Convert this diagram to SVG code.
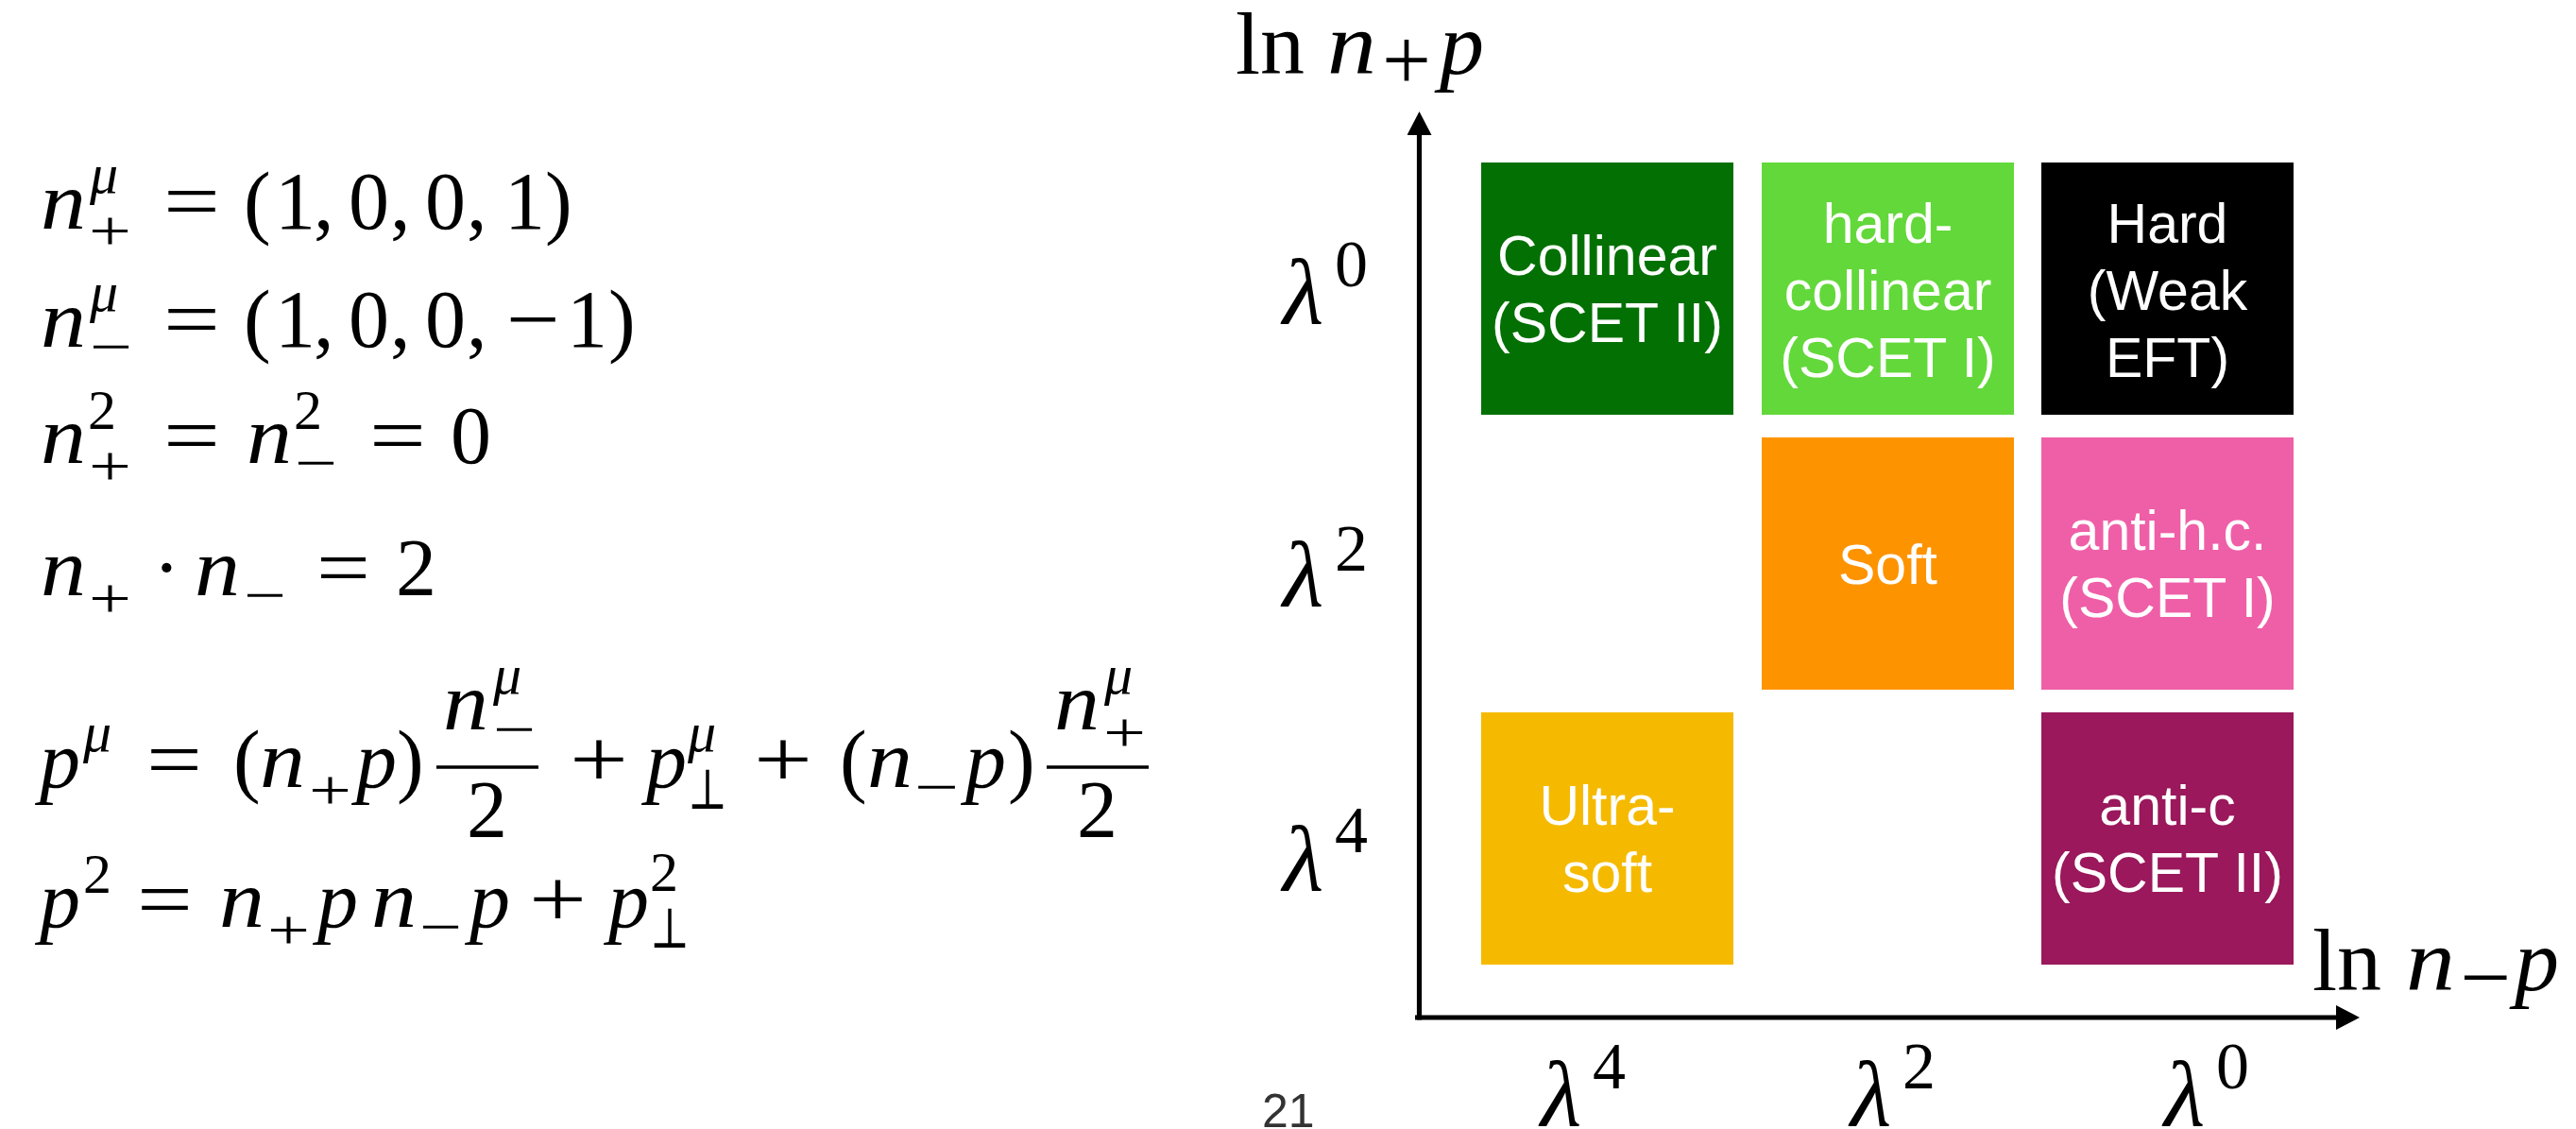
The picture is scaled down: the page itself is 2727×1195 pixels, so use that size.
<svg xmlns="http://www.w3.org/2000/svg" width="2727" height="1195" viewBox="0 0 2727 1195">
<style>
.m{font-family:"Liberation Serif","DejaVu Serif",serif;font-size:86px;fill:#000}
.i{font-style:italic}
.s{font-size:60px}
.ax{font-family:"Liberation Serif","DejaVu Serif",serif;font-size:94px;fill:#000}
.lam{font-family:"Liberation Serif","DejaVu Serif",serif;font-size:100px;font-style:italic;fill:#000}
.sup{font-family:"Liberation Serif","DejaVu Serif",serif;font-size:70px;fill:#000}
.lab{font-family:"Liberation Sans",Arial,sans-serif;font-size:59px;fill:#fff;text-anchor:middle}
.axis{stroke:#000;stroke-width:5.2;fill:none}
.bar{stroke:#000;stroke-width:3.5}
</style>
<defs>
<marker id="ah" viewBox="0 0 25 26" refX="0" refY="13" markerWidth="25" markerHeight="26" markerUnits="userSpaceOnUse" orient="auto">
<path d="M0,0 L25,13 L0,26 z" fill="#000"/>
</marker>
</defs>
<rect width="2727" height="1195" fill="#fff"/>

<g id="equations">
<!-- line 1 -->
<text class="m i" x="43" y="242" textLength="48" lengthAdjust="spacingAndGlyphs">n</text>
<text class="m i s" x="95" y="204">μ</text>
<text class="m s" x="94" y="264" textLength="45" lengthAdjust="spacingAndGlyphs">+</text>
<text class="m" x="173" y="242" textLength="60" lengthAdjust="spacingAndGlyphs">=</text>
<text class="m" x="258 291 332 369 413 450 494 534 577" y="242">(1,0,0,1)</text>
<!-- line 2 -->
<text class="m i" x="43" y="367" textLength="48" lengthAdjust="spacingAndGlyphs">n</text>
<text class="m i s" x="95" y="329">μ</text>
<text class="m s" x="95" y="387" textLength="45" lengthAdjust="spacingAndGlyphs">−</text>
<text class="m" x="173" y="367" textLength="60" lengthAdjust="spacingAndGlyphs">=</text>
<text class="m" x="258 291 332 369 413 450 494" y="367">(1,0,0,</text>
<text class="m" x="536" y="367" textLength="57" lengthAdjust="spacingAndGlyphs">−</text>
<text class="m" x="600 644" y="367">1)</text>
<!-- line 3 -->
<text class="m i" x="43" y="490" textLength="48" lengthAdjust="spacingAndGlyphs">n</text>
<text class="m s" x="93" y="454">2</text>
<text class="m s" x="94" y="513" textLength="45" lengthAdjust="spacingAndGlyphs">+</text>
<text class="m" x="173" y="490" textLength="60" lengthAdjust="spacingAndGlyphs">=</text>
<text class="m i" x="261" y="490" textLength="48" lengthAdjust="spacingAndGlyphs">n</text>
<text class="m s" x="311" y="454">2</text>
<text class="m s" x="312" y="510" textLength="45" lengthAdjust="spacingAndGlyphs">−</text>
<text class="m" x="391" y="490" textLength="60" lengthAdjust="spacingAndGlyphs">=</text>
<text class="m" x="477" y="490">0</text>
<!-- line 4 -->
<text class="m i" x="43" y="630" textLength="48" lengthAdjust="spacingAndGlyphs">n</text>
<text class="m s" x="94" y="653" textLength="45" lengthAdjust="spacingAndGlyphs">+</text>
<text class="m" x="162" y="630">·</text>
<text class="m i" x="206" y="630" textLength="48" lengthAdjust="spacingAndGlyphs">n</text>
<text class="m s" x="258" y="650" textLength="45" lengthAdjust="spacingAndGlyphs">−</text>
<text class="m" x="335" y="630" textLength="57" lengthAdjust="spacingAndGlyphs">=</text>
<text class="m" x="419" y="630">2</text>
<!-- line 5 -->
<text class="m i" x="42" y="833">p</text>
<text class="m i s" x="88" y="795">μ</text>
<text class="m" x="155" y="833" textLength="59" lengthAdjust="spacingAndGlyphs">=</text>
<text class="m" x="247" y="833">(</text>
<text class="m i" x="275" y="833" textLength="48" lengthAdjust="spacingAndGlyphs">n</text>
<text class="m s" x="327" y="856" textLength="45" lengthAdjust="spacingAndGlyphs">+</text>
<text class="m i" x="377" y="833">p</text>
<text class="m" x="420" y="833">)</text>
<line class="bar" x1="462" y1="812" x2="570" y2="812"/>
<text class="m i" x="469" y="772" textLength="48" lengthAdjust="spacingAndGlyphs">n</text>
<text class="m i s" x="522" y="734">μ</text>
<text class="m s" x="522" y="792" textLength="45" lengthAdjust="spacingAndGlyphs">−</text>
<text class="m" x="494" y="886">2</text>
<text class="m" x="603" y="833" textLength="62" lengthAdjust="spacingAndGlyphs">+</text>
<text class="m i" x="684" y="833">p</text>
<text class="m i s" x="728" y="795">μ</text>
<text class="m s" x="728" y="856" textLength="42" lengthAdjust="spacingAndGlyphs">⊥</text>
<text class="m" x="798" y="833" textLength="62" lengthAdjust="spacingAndGlyphs">+</text>
<text class="m" x="889" y="833">(</text>
<text class="m i" x="918" y="833" textLength="48" lengthAdjust="spacingAndGlyphs">n</text>
<text class="m s" x="968" y="853" textLength="47" lengthAdjust="spacingAndGlyphs">−</text>
<text class="m i" x="1022" y="833">p</text>
<text class="m" x="1067" y="833">)</text>
<line class="bar" x1="1108" y1="812" x2="1216" y2="812"/>
<text class="m i" x="1116" y="772" textLength="48" lengthAdjust="spacingAndGlyphs">n</text>
<text class="m i s" x="1169" y="734">μ</text>
<text class="m s" x="1168" y="795" textLength="45" lengthAdjust="spacingAndGlyphs">+</text>
<text class="m" x="1140" y="886">2</text>
<!-- line 6 -->
<text class="m i" x="42" y="981">p</text>
<text class="m s" x="88" y="945">2</text>
<text class="m" x="145" y="981" textLength="59" lengthAdjust="spacingAndGlyphs">=</text>
<text class="m i" x="232" y="981" textLength="48" lengthAdjust="spacingAndGlyphs">n</text>
<text class="m s" x="283" y="1004" textLength="45" lengthAdjust="spacingAndGlyphs">+</text>
<text class="m i" x="336" y="981">p</text>
<text class="m i" x="393" y="981" textLength="48" lengthAdjust="spacingAndGlyphs">n</text>
<text class="m s" x="444" y="1001" textLength="45" lengthAdjust="spacingAndGlyphs">−</text>
<text class="m i" x="497" y="981">p</text>
<text class="m" x="560" y="981" textLength="61" lengthAdjust="spacingAndGlyphs">+</text>
<text class="m i" x="644" y="981">p</text>
<text class="m s" x="688" y="943">2</text>
<text class="m s" x="688" y="1003" textLength="42" lengthAdjust="spacingAndGlyphs">⊥</text>
</g>

<g id="connectors">
<line class="axis" x1="1502.5" y1="1079.6" x2="1502.5" y2="143" marker-end="url(#ah)"/>
<line class="axis" x1="1498" y1="1077" x2="2473" y2="1077" marker-end="url(#ah)"/>
</g>

<g id="axis-labels">
<text class="ax" x="1308" y="78">ln</text>
<text class="ax i" x="1405" y="78" textLength="52" lengthAdjust="spacingAndGlyphs">n</text>
<text class="ax" x="1463" y="95" font-size="66" textLength="52" lengthAdjust="spacingAndGlyphs">+</text>
<text class="ax i" x="1524" y="78">p</text>

<text class="ax" x="2448" y="1048">ln</text>
<text class="ax i" x="2547" y="1048" textLength="52" lengthAdjust="spacingAndGlyphs">n</text>
<text class="ax" x="2604" y="1066" font-size="66" textLength="54" lengthAdjust="spacingAndGlyphs">−</text>
<text class="ax i" x="2662" y="1048">p</text>

<text class="lam" x="1358" y="343">λ</text><text class="sup" x="1413" y="303">0</text>
<text class="lam" x="1358" y="642">λ</text><text class="sup" x="1413" y="604">2</text>
<text class="lam" x="1358" y="943">λ</text><text class="sup" x="1413" y="902">4</text>

<text class="lam" x="1631" y="1192">λ</text><text class="sup" x="1686" y="1152">4</text>
<text class="lam" x="1959" y="1192">λ</text><text class="sup" x="2014" y="1152">2</text>
<text class="lam" x="2291" y="1192">λ</text><text class="sup" x="2346" y="1152">0</text>

<text x="1336" y="1193" font-family="Liberation Sans, Arial, sans-serif" font-size="50" fill="#333">21</text>
</g>

<g id="collinear">
<rect x="1568" y="172" width="267" height="267" fill="#037003"/>
<text class="lab" x="1701.5" y="291">Collinear</text>
<text class="lab" x="1701.5" y="362">(SCET II)</text>
</g>
<g id="hard-collinear">
<rect x="1865" y="172" width="267" height="267" fill="#63d83a"/>
<text class="lab" x="1998.5" y="257">hard-</text>
<text class="lab" x="1998.5" y="328">collinear</text>
<text class="lab" x="1998.5" y="399">(SCET I)</text>
</g>
<g id="hard">
<rect x="2161" y="172" width="267" height="267" fill="#000"/>
<text class="lab" x="2294.5" y="257">Hard</text>
<text class="lab" x="2294.5" y="328">(Weak</text>
<text class="lab" x="2294.5" y="399">EFT)</text>
</g>
<g id="soft">
<rect x="1865" y="463" width="267" height="267" fill="#fe9300"/>
<text class="lab" x="1998.5" y="618">Soft</text>
</g>
<g id="anti-hc">
<rect x="2161" y="463" width="267" height="267" fill="#ef5fa7"/>
<text class="lab" x="2294.5" y="582">anti-h.c.</text>
<text class="lab" x="2294.5" y="653">(SCET I)</text>
</g>
<g id="ultrasoft">
<rect x="1568" y="754" width="267" height="267" fill="#f5ba00"/>
<text class="lab" x="1701.5" y="873">Ultra-</text>
<text class="lab" x="1701.5" y="944">soft</text>
</g>
<g id="anti-c">
<rect x="2161" y="754" width="267" height="267" fill="#9a185b"/>
<text class="lab" x="2294.5" y="873">anti-c</text>
<text class="lab" x="2294.5" y="944">(SCET II)</text>
</g>
</svg>
